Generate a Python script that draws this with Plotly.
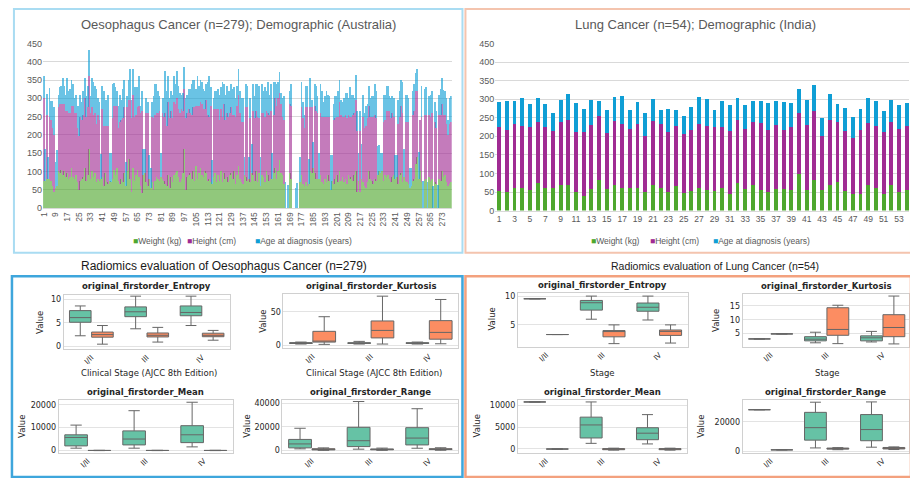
import plotly.graph_objects as go

W, H = 910, 478

# ---------------- data ----------------
oes_weight = [75,75,80,78,80,75,60,45,55,60,
 100,95,105,90,100,85,95,80,85,110,
 85,80,90,70,48,75,80,85,110,75,
 90,160,80,100,85,95,70,80,75,80,
 85,60,95,70,65,75,70,80,105,90,
 110,75,65,80,70,95,60,100,135,80,
 45,110,75,90,105,85,60,40,90,95,
 70,60,80,55,70,50,75,85,80,75,
 85,80,75,65,60,90,55,85,70,90,
 95,100,85,70,80,95,160,50,85,90,
 95,80,100,75,115,80,95,110,90,85,
 100,95,75,80,70,65,85,95,70,90,
 75,100,70,95,80,85,70,90,95,80,
 100,65,90,115,80,70,65,90,85,75,
 80,70,95,90,75,100,70,95,60,90,
 85,70,100,90,75,80,80,95,110,80,
 100,130,95,90,65,0,0,0,95,80,
 0,0,0,0,0,70,90,65,60,70,
 60,65,100,95,110,95,80,80,80,90,
 70,65,80,70,90,75,50,75,65,80,
 90,70,100,75,85,70,80,65,90,80,
 85,75,90,100,45,75,45,80,70,60,
 55,70,100,80,75,65,80,75,90,100,
 95,100,75,90,85,90,80,70,85,90,
 80,85,65,90,95,70,85,75,70,65,
 55,60,75,80,120,140,80,100,70,0,
 75,80,0,85,75,80,0,70,65,0,
 80,75,100,85,90,70,60,65,70]
oes_height = [225,0,175,0,170,165,160,155,0,0,
 175,190,180,195,185,180,170,180,175,170,
 195,180,170,150,150,175,160,170,190,175,
 185,200,180,175,170,165,160,175,165,0,
 185,165,130,155,160,0,0,165,175,190,
 170,145,170,160,175,180,0,175,160,215,
 200,200,175,165,170,195,200,225,0,0,
 190,200,0,0,180,195,180,175,180,190,
 0,180,175,195,165,200,190,180,175,200,
 190,200,185,190,190,170,165,195,175,180,
 165,175,175,200,165,200,185,180,195,185,
 170,200,180,170,210,0,185,175,200,180,
 165,170,180,190,160,175,180,170,180,175,
 155,185,190,195,180,165,170,0,190,200,
 0,175,0,175,170,165,180,150,0,170,
 175,180,165,170,180,185,0,160,190,200,
 200,185,190,160,175,0,0,0,190,200,
 0,0,0,0,0,0,185,180,160,205,
 215,0,175,180,0,185,185,180,0,170,
 180,185,170,180,160,175,0,0,175,165,
 160,180,190,180,165,180,175,180,165,170,
 165,180,170,195,165,0,165,0,180,160,
 170,175,180,170,175,185,175,170,0,0,
 0,0,160,150,180,175,185,175,175,160,
 0,0,165,160,185,190,0,160,165,170,
 0,0,180,185,200,180,0,140,180,0,
 180,175,0,170,175,180,0,165,155,0,
 175,180,185,170,165,160,140,165,165]
oes_age = [60,85,57,62,77,53,73,75,70,98,
 35,45,50,70,50,45,90,60,65,70,
 60,40,50,60,80,60,50,65,55,55,
 60,72,45,80,90,75,95,45,50,68,
 65,95,70,70,85,75,80,95,62,50,
 40,60,75,55,80,75,65,30,55,85,
 50,70,80,75,55,80,20,55,70,65,
 40,30,65,55,40,60,85,80,60,40,
 65,40,50,115,95,70,55,55,65,70,
 55,75,65,55,40,50,60,55,50,55,
 65,85,75,75,45,80,55,60,60,55,
 50,45,90,110,50,65,30,50,50,55,
 70,60,95,55,70,75,70,60,65,70,
 75,50,55,70,60,65,65,50,65,60,
 60,55,80,75,60,75,90,90,80,80,
 60,80,55,85,55,75,70,90,45,60,
 45,57,30,50,65,70,0,63,35,60,
 0,0,55,68,0,70,70,45,35,60,
 60,70,80,20,70,60,70,45,70,80,
 70,40,55,70,60,55,95,70,45,60,
 55,70,60,40,40,50,60,70,45,80,
 60,55,40,70,55,75,55,95,60,40,
 55,40,55,50,55,55,85,75,80,72,
 55,50,75,70,70,70,40,55,45,50,
 65,60,65,70,70,85,75,75,75,65,
 55,50,65,75,50,60,72,0,85,75,
 70,75,70,50,60,60,60,55,45,62,
 55,70,70,67,65,70,40,70,70]
oes_patients = list(range(1, len(oes_weight) + 1))
oes_tick_labels = list(range(1, 274, 8))

lung_weight = [53,50,62,61,56,74,60,60,68,68,50,40,58,83,58,69,62,62,60,49,
 69,60,49,65,47,54,62,56,52,62,44,75,59,68,55,51,57,59,56,98,
 55,82,55,70,78,52,45,44,70,60,44,68,51,55]
lung_height = [171,167,171,168,168,165,164,155,171,175,162,171,172,173,151,171,172,158,174,153,
 171,173,162,164,160,164,170,173,172,162,171,168,160,170,181,166,174,158,168,164,
 175,186,146,175,161,162,151,173,165,169,168,171,168,173]
lung_age = [69,78,61,73,64,64,64,48,58,70,78,63,67,38,62,66,75,51,59,60,
 61,39,63,43,48,62,75,71,47,71,70,61,66,57,59,74,64,75,66,65,
 69,71,48,69,49,61,55,56,68,66,55,59,65,61]
lung_patients = list(range(1, len(lung_weight) + 1))
lung_tick_labels = list(range(1, 54, 2))

series_names = ["Weight (kg)", "Height (cm)", "Age at diagnosis (years)"]
series_colors = ["#4EA72E", "#A02B93", "#0F9ED5"]

stages = ["I/II", "III", "IV"]

# box statistics: lower whisker, q1, median, q3, upper whisker (per stage)
oes_entropy_a = dict(lo=[2.2,3.7,4.4], q1=[5.1,6.3,6.5], med=[6.1,7.35,7.2], q3=[7.6,8.4,8.6], hi=[8.6,10.7,10.7])
oes_entropy_b = dict(lo=[0.4,0.85,1.25], q1=[1.9,1.95,2.0], med=[2.45,2.3,2.3], q3=[3.0,2.8,2.75], hi=[4.4,4.0,3.35])
oes_kurtosis_a = dict(lo=[1.5,1.5,1.5], q1=[2.3,2.4,2.4], med=[2.9,2.9,2.9], q3=[3.6,3.5,3.5], hi=[4.5,5.5,4.5])
oes_kurtosis_b = dict(lo=[1.0,1.5,1.9], q1=[4.4,10.7,8.8], med=[5.9,22,19], q3=[20.6,36.2,36.7], hi=[42.6,73.5,68.5])
oes_mean_a = dict(lo=[1000,1000,1570], q1=[2000,2430,3430], med=[5700,5000,6860], q3=[6850,8570,10850], hi=[11100,17400,21100])
oes_mean_b = dict(lo=[-60,-60,-60], q1=[-20,-20,-20], med=[0,0,0], q3=[30,30,30], hi=[80,80,80])
oes_range_a = dict(lo=[1400,1100,1900], q1=[2230,3300,4700], med=[5540,8280,10500], q3=[9350,19600,19300], hi=[18800,41400,35300])
oes_range_b = dict(lo=[100,100,200], q1=[500,600,800], med=[900,900,1100], q3=[1500,1300,1500], hi=[2200,2000,2300])

lung_entropy_a = dict(lo=[9.6,6.0,5.86], q1=[9.6,7.6,7.4], med=[9.6,8.9,8.1], q3=[9.6,9.3,8.85], hi=[9.6,10.07,10.07])
lung_entropy_b = dict(lo=[3.3,1.7,1.8], q1=[3.3,2.9,3.15], med=[3.3,3.85,3.85], q3=[3.3,4.0,4.1], hi=[3.3,5.0,5.0])
lung_kurtosis_a = dict(lo=[3.1,1.7,2.0], q1=[3.1,2.4,2.4], med=[3.1,3.0,3.5], q3=[3.1,3.9,4.2], hi=[3.1,5.5,5.8])
lung_kurtosis_b = dict(lo=[4.9,1.4,1.3], q1=[4.9,4.4,3.9], med=[4.9,6.5,7.2], q3=[4.9,14.3,11.8], hi=[4.9,15.2,18.5])
lung_mean_a = dict(lo=[10800,1260,1130], q1=[10800,2500,2100], med=[10800,5500,3600], q3=[10800,7300,4860], hi=[10800,10800,7880])
lung_mean_b = dict(lo=[-50,-300,-300], q1=[-50,-200,-200], med=[-50,-50,-50], q3=[-50,50,50], hi=[-50,150,150])
lung_range_a = dict(lo=[28200,2200,2700], q1=[28200,7500,7100], med=[28200,16000,14700], q3=[28200,26400,24900], hi=[28200,33300,33500])
lung_range_b = dict(lo=[900,1000,1100], q1=[900,1400,1500], med=[900,1700,1900], q3=[900,2100,2500], hi=[900,2400,2900])

BOX_A = "#66c2a5"
BOX_B = "#fc8d62"
BOX_LINE = "#666666"

# ---------------- helpers ----------------
def fx(p):
    return p / W

def fy(p):
    return 1 - p / H

XL_FONT = "Liberation Sans, Arial, sans-serif"
SNS_FONT = "DejaVu Sans, sans-serif"
XL_GREY = "#595959"
SNS_TXT = "#262626"

fig = go.Figure()
layout = dict(width=W, height=H, margin=dict(l=0, r=0, t=0, b=0), autosize=False,
              paper_bgcolor="white", plot_bgcolor="white", showlegend=False,
              barmode="stack", bargap=0.5, boxmode="overlay")

# ---------------- bar charts ----------------
for vals, name, col in zip([oes_weight, oes_height, oes_age], series_names, series_colors):
    fig.add_trace(go.Bar(x=oes_patients, y=vals, name=name, marker=dict(color=col, line=dict(width=0)),
                         opacity=0.62, xaxis="x", yaxis="y"))
for vals, name, col in zip([lung_weight, lung_height, lung_age], series_names, series_colors):
    fig.add_trace(go.Bar(x=lung_patients, y=vals, name=name, marker=dict(color=col, line=dict(width=0)),
                         xaxis="x2", yaxis="y2"))

bar_y = dict(range=[0, 450], dtick=50, showgrid=True, gridcolor="#d9d9d9", gridwidth=1,
             zeroline=False, showline=False, ticks="", tickfont=dict(family=XL_FONT, size=9, color=XL_GREY))
layout["xaxis"] = dict(domain=[fx(39.3), fx(450.2)], range=[0.5, 279.5], tickvals=oes_tick_labels,
                       ticktext=[str(v) for v in oes_tick_labels], tickangle=-90, showgrid=False, zeroline=False,
                       showline=True, linecolor="#d9d9d9", ticks="", anchor="y",
                       tickfont=dict(family=XL_FONT, size=8.5, color=XL_GREY))
layout["yaxis"] = dict(bar_y, domain=[fy(207.3), fy(39.3)], anchor="x")
layout["xaxis2"] = dict(domain=[fx(494), 1.0], range=[0.5, 54.3], tickvals=lung_tick_labels,
                        ticktext=[str(v) for v in lung_tick_labels], tickangle=0, showgrid=False, zeroline=False,
                        showline=True, linecolor="#d9d9d9", ticks="", anchor="y2",
                        tickfont=dict(family=XL_FONT, size=8.5, color=XL_GREY))
layout["yaxis2"] = dict(bar_y, domain=[fy(210), fy(39.3)], anchor="x2")

# ---------------- box plots ----------------
panels = [
    (3, oes_entropy_a, oes_entropy_b, (60, 227), (296, 351.7), (-0.71, 10.99), [0, 5, 10], 2.5, "original_firstorder_Entropy"),
    (4, oes_kurtosis_a, oes_kurtosis_b, (281, 456.7), (295, 350.7), (-5, 77), [0, 50], 2.5, "original_firstorder_Kurtosis"),
    (5, oes_mean_a, oes_mean_b, (55, 230), (403.3, 457.3), (-990, 22140), [0, 10000, 20000], 2.5, "original_firstorder_Mean"),
    (6, oes_range_a, oes_range_b, (280, 456.7), (403.3, 457.3), (-1900, 42800), [0, 20000, 40000], 2.5, "original_firstorder_Range"),
    (7, lung_entropy_a, lung_entropy_b, (516.7, 687.3), (294, 349), (1.16, 10.64), [5, 10], 2.5, "original_firstorder_Entropy"),
    (8, lung_kurtosis_a, lung_kurtosis_b, (742.7, 910), (295, 349), (0.3, 19.3), [5, 10, 15], 2.47, "original_firstorder_Kurtosis"),
    (9, lung_mean_a, lung_mean_b, (516.7, 686.7), (403.3, 457.3), (-900, 11280), [0, 5000, 10000], 2.5, "original_firstorder_Mean"),
    (10, lung_range_a, lung_range_b, (742.7, 910), (403.3, 457.3), (-1070, 34900), [0, 20000], 2.47, "original_firstorder_Range"),
]

annotations = []
shapes = []

for n, sa, sb, (x0, x1), (y0, y1), yr, yt, xr, title in panels:
    for st, col, off in [(sa, BOX_A, -0.2), (sb, BOX_B, 0.2)]:
        fig.add_trace(go.Box(x=[i + off for i in range(len(stages))], q1=st["q1"], median=st["med"], q3=st["q3"],
                             lowerfence=st["lo"], upperfence=st["hi"], width=0.39, whiskerwidth=0.5,
                             fillcolor=col, line=dict(color=BOX_LINE, width=1), boxpoints=False,
                             xaxis=f"x{n}", yaxis=f"y{n}", hoverinfo="skip"))
    layout[f"xaxis{n}"] = dict(domain=[fx(x0), fx(min(x1, W))], range=[-0.5, xr], tickvals=[0, 1, 2], ticktext=stages,
                               tickangle=-45, showgrid=False, zeroline=False, showline=True, mirror=True,
                               linecolor="#d0d0d0", ticks="", anchor=f"y{n}",
                               tickfont=dict(family=SNS_FONT, size=7.5, color=SNS_TXT))
    layout[f"yaxis{n}"] = dict(domain=[fy(y1), fy(y0)], range=list(yr), tickvals=yt, ticktext=[str(v) for v in yt],
                               showgrid=True, gridcolor="#e3e3e3", zeroline=False, showline=True, mirror=True,
                               linecolor="#d0d0d0", ticks="", anchor=f"x{n}",
                               tickfont=dict(family=SNS_FONT, size=8, color=SNS_TXT))
    annotations.append(dict(text=f"<b>{title}</b>", x=fx((x0 + min(x1, 912)) / 2), y=fy(y0 - 8.5), xref="paper", yref="paper",
                            showarrow=False, xanchor="center", yanchor="middle",
                            font=dict(family=SNS_FONT, size=8.5, color=SNS_TXT)))

# y-axis "Value" labels
for xv, yv in [(36, 324), (261, 323), (18, 430), (244, 430), (491, 321), (716.7, 322), (476, 430), (700.7, 430)]:
    annotations.append(dict(text="Value", x=fx(xv), y=fy(yv), xref="paper", yref="paper", showarrow=False,
                            textangle=-90, xanchor="center", yanchor="middle",
                            font=dict(family=SNS_FONT, size=8.5, color=SNS_TXT)))
# x-axis titles
for txt, xv in [("Clinical Stage (AJCC 8th Edition)", 146), ("Clinical Stage (AJCC 8th Edition)", 372),
                ("Stage", 601.7), ("Stage", 827.7)]:
    annotations.append(dict(text=txt, x=fx(xv), y=fy(376), xref="paper", yref="paper", showarrow=False,
                            xanchor="center", yanchor="middle", font=dict(family=SNS_FONT, size=8.5, color=SNS_TXT)))

# chart titles
annotations.append(dict(text="Oesophagus Cancer (n=279); Demographic (Australia)", x=fx(236), y=fy(20),
                        xref="paper", yref="paper", showarrow=False, xanchor="center", yanchor="middle",
                        font=dict(family=XL_FONT, size=13, color=XL_GREY)))
annotations.append(dict(text="Lung Cancer (n=54); Demographic (India)", x=fx(695), y=fy(20),
                        xref="paper", yref="paper", showarrow=False, xanchor="center", yanchor="middle",
                        font=dict(family=XL_FONT, size=13, color=XL_GREY)))
annotations.append(dict(text="Radiomics evaluation of Oesophagus Cancer (n=279)", x=fx(221), y=fy(266.7),
                        xref="paper", yref="paper", showarrow=False, xanchor="center", yanchor="middle",
                        font=dict(family=XL_FONT, size=12, color="#1a1a1a")))
annotations.append(dict(text="Radiomics evaluation of Lung Cancer (n=54)", x=fx(714.5), y=fy(266.7),
                        xref="paper", yref="paper", showarrow=False, xanchor="center", yanchor="middle",
                        font=dict(family=XL_FONT, size=10.5, color="#1a1a1a")))

# legends (text)
for xs in [(128, 182, 250), (588, 648, 711)]:
    for xv, name, col in zip(xs, series_names, series_colors):
        annotations.append(dict(text=f'<span style="color:{col}">■</span>{name}', x=fx(xv), y=fy(241),
                                xref="paper", yref="paper", showarrow=False, xanchor="left", yanchor="middle",
                                font=dict(family=XL_FONT, size=8.5, color=XL_GREY)))

# frames
for (x0, y0, x1, y1, col, lw) in [(10, 4, 461, 253, "#a9dcf2", 2), (464, 4, 912, 253, "#f4c4ae", 2),
                                  (8, 277, 461, 482, "#3ea6dc", 2.5), (464, 277, 912, 482, "#f3a17e", 2.5)]:
    shapes.append(dict(type="rect", xref="paper", yref="paper", x0=fx(x0), x1=fx(x1), y0=fy(y1), y1=fy(y0),
                       line=dict(color=col, width=lw), fillcolor="rgba(0,0,0,0)", layer="above"))

layout["annotations"] = annotations
layout["shapes"] = shapes
fig.update_layout(**layout)

fig.write_html("out.html", config={"displayModeBar": False},
               post_script="document.body.style.margin='0';document.body.style.overflow='hidden';")
